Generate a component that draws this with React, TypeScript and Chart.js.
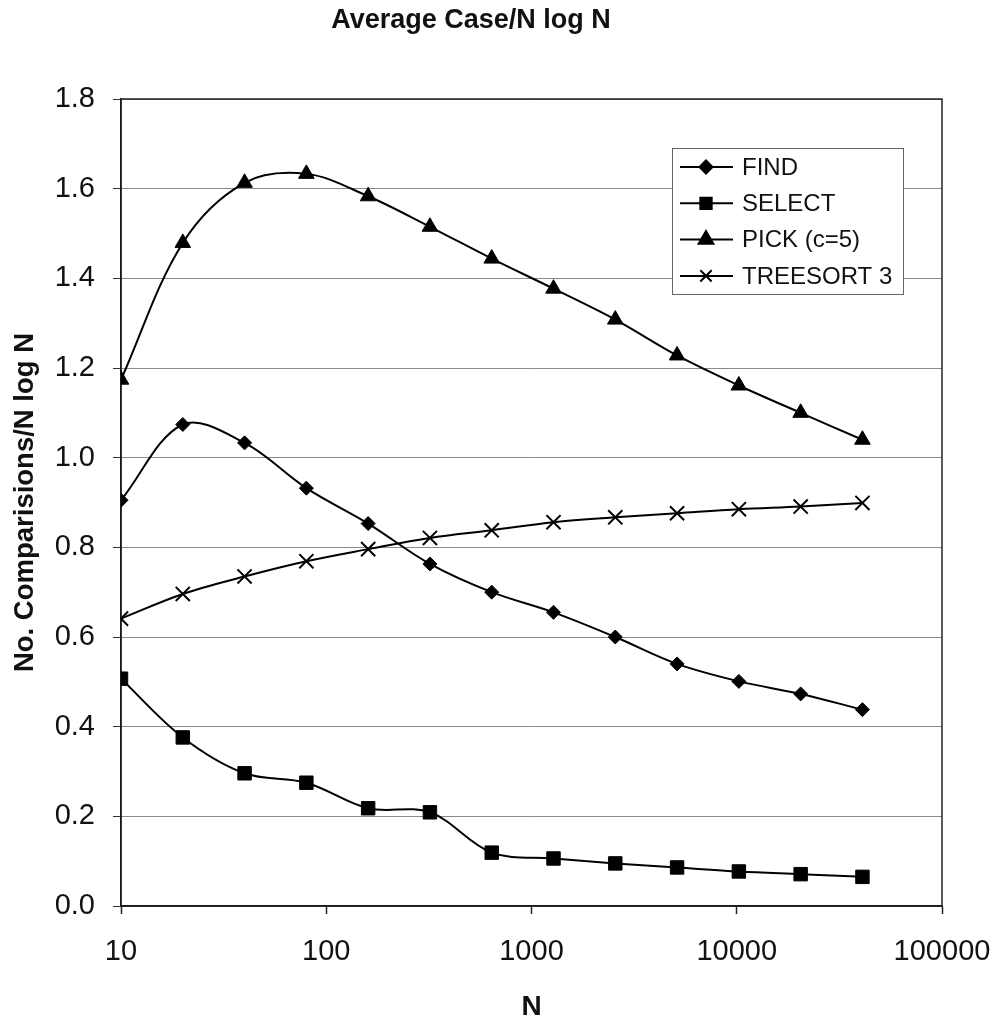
import React, { useEffect, useRef } from 'react';
import { Chart, registerables } from 'chart.js';
import { drawPoint } from 'chart.js/helpers';

Chart.register(...registerables);

// ---- data ----
const nValues = [10, 20, 40, 80, 160, 320, 640, 1280, 2560, 5120, 10240, 20480, 40960];
const findValues = [0.905, 1.074, 1.033, 0.932, 0.853, 0.763, 0.7, 0.655, 0.6, 0.54, 0.501, 0.473, 0.438];
const selectValues = [0.507, 0.376, 0.296, 0.275, 0.218, 0.209, 0.119, 0.106, 0.095, 0.086, 0.077, 0.071, 0.065];
const pickValues = [1.174, 1.479, 1.613, 1.633, 1.583, 1.515, 1.444, 1.377, 1.308, 1.228, 1.161, 1.1, 1.04];
const treesortValues = [0.641, 0.696, 0.735, 0.769, 0.796, 0.821, 0.838, 0.856, 0.867, 0.876, 0.885, 0.891, 0.899];
const seriesLabels = ['FIND', 'SELECT', 'PICK (c=5)', 'TREESORT 3'];
const xTickValues = [10, 100, 1000, 10000, 100000];
const yMin = 0;
const yMax = 1.8;
const yStep = 0.2;
const chartTitle = 'Average Case/N log N';
const yAxisTitle = 'No. Comparisions/N log N';
const xAxisTitle = 'N';

const FONT = "'Liberation Sans', Arial, Helvetica, sans-serif";

const toPoints = (vals: number[]) => vals.map((v, i) => ({ x: nValues[i], y: v }));

const legendRadius = [6.5, 8, 8.5, 8];

const framePlugin = {
  id: 'frame',
  beforeDatasetsDraw(chart: any) {
    const { ctx, chartArea } = chart;
    ctx.save();
    ctx.strokeStyle = '#222';
    ctx.lineWidth = 1.5;
    ctx.strokeRect(chartArea.left, chartArea.top, chartArea.right - chartArea.left, chartArea.bottom - chartArea.top);
    ctx.restore();
  },
};

const boxLegendPlugin = {
  id: 'boxLegend',
  afterDatasetsDraw(chart: any) {
    const { ctx, chartArea } = chart;
    const x0 = chartArea.right - 270;
    const y0 = chartArea.top + 49;
    const w = 231;
    const h = 146;
    ctx.save();
    ctx.fillStyle = '#ffffff';
    ctx.fillRect(x0, y0, w, h);
    ctx.strokeStyle = '#666';
    ctx.lineWidth = 1;
    ctx.strokeRect(x0 + 0.5, y0 + 0.5, w, h);
    chart.data.datasets.forEach((ds: any, i: number) => {
      const cy = y0 + 19 + i * 36.3;
      ctx.strokeStyle = '#000';
      ctx.lineWidth = 2;
      ctx.beginPath();
      ctx.moveTo(x0 + 8, cy);
      ctx.lineTo(x0 + 61, cy);
      ctx.stroke();
      ctx.fillStyle = '#000';
      ctx.strokeStyle = '#000';
      drawPoint(ctx, { pointStyle: ds.pointStyle, radius: legendRadius[i], borderWidth: 1.5, rotation: 0 } as any, x0 + 34, cy);
      ctx.fillStyle = '#111';
      ctx.font = `24px ${FONT}`;
      ctx.textBaseline = 'middle';
      ctx.textAlign = 'left';
      ctx.fillText(ds.label, x0 + 70, cy + 1);
    });
    ctx.restore();
  },
};

export default function App() {
  const canvasRef = useRef<HTMLCanvasElement | null>(null);

  useEffect(() => {
    const canvas = canvasRef.current;
    if (!canvas) return;
    const common = {
      borderColor: '#000',
      backgroundColor: '#000',
      pointBackgroundColor: '#000',
      pointBorderColor: '#000',
      borderWidth: 2,
      tension: 0.35,
      fill: false,
    };
    const chart = new Chart(canvas, {
      type: 'line',
      data: {
        datasets: [
          { ...common, label: seriesLabels[0], data: toPoints(findValues), pointStyle: 'rectRot', pointRadius: 7, pointBorderWidth: 1 },
          { ...common, label: seriesLabels[1], data: toPoints(selectValues), pointStyle: 'rect', pointRadius: 9.5, pointBorderWidth: 1 },
          { ...common, label: seriesLabels[2], data: toPoints(pickValues), pointStyle: 'triangle', pointRadius: 9, pointBorderWidth: 1 },
          { ...common, label: seriesLabels[3], data: toPoints(treesortValues), pointStyle: 'crossRot', pointRadius: 10, pointBorderWidth: 2 },
        ],
      },
      options: {
        responsive: false,
        animation: false,
        layout: { padding: { left: 0, right: 63, top: 0, bottom: 0 } },
        plugins: {
          legend: { display: false },
          tooltip: { enabled: false },
          title: {
            display: true,
            text: chartTitle,
            color: '#111',
            font: { family: FONT, size: 27, weight: 'bold', lineHeight: 1.2 },
            padding: { top: 4, bottom: 62.6 },
          },
        },
        scales: {
          x: {
            type: 'logarithmic',
            min: 10,
            max: 100000,
            afterFit: (scale: any) => {
              scale.height = 116;
              scale.paddingLeft = 0;
              scale.paddingRight = 0;
            },
            afterBuildTicks: (scale: any) => {
              scale.ticks = xTickValues.map((v) => ({ value: v }));
            },
            ticks: {
              color: '#111',
              font: { family: FONT, size: 29 },
              padding: 21,
              maxRotation: 0,
              autoSkip: false,
              callback: (v: any) => String(v),
            },
            grid: {
              drawOnChartArea: false,
              drawTicks: true,
              tickLength: 8,
              tickColor: '#222',
              tickWidth: 1.5,
            },
            border: { display: true, color: '#000', width: 1.5 },
            title: {
              display: true,
              text: xAxisTitle,
              color: '#111',
              font: { family: FONT, size: 28, weight: 'bold', lineHeight: 1.2 },
              padding: { top: 0, bottom: -2 },
            },
          },
          y: {
            type: 'linear',
            min: yMin,
            max: yMax,
            afterFit: (scale: any) => {
              scale.width = 121;
            },
            ticks: {
              stepSize: yStep,
              color: '#111',
              font: { family: FONT, size: 29 },
              padding: 18,
              callback: (v: any) => Number(v).toFixed(1),
            },
            grid: {
              color: '#8a8a8a',
              lineWidth: 1,
              drawTicks: true,
              tickLength: 8,
              tickColor: '#333',
            },
            border: { display: true, color: '#000', width: 1.5 },
            title: {
              display: true,
              text: yAxisTitle,
              color: '#111',
              font: { family: FONT, size: 27.5, weight: 'bold', lineHeight: 1.2 },
              padding: { top: 8.5, bottom: 0 },
            },
          },
        },
      } as any,
      plugins: [framePlugin, boxLegendPlugin],
    });
    return () => chart.destroy();
  }, []);

  return (
    <div style={{ position: 'fixed', left: 0, top: 0, width: 1005, height: 1022, background: '#fff' }}>
      <canvas ref={canvasRef} width={1005} height={1022} style={{ display: 'block', width: 1005, height: 1022 }} />
    </div>
  );
}
